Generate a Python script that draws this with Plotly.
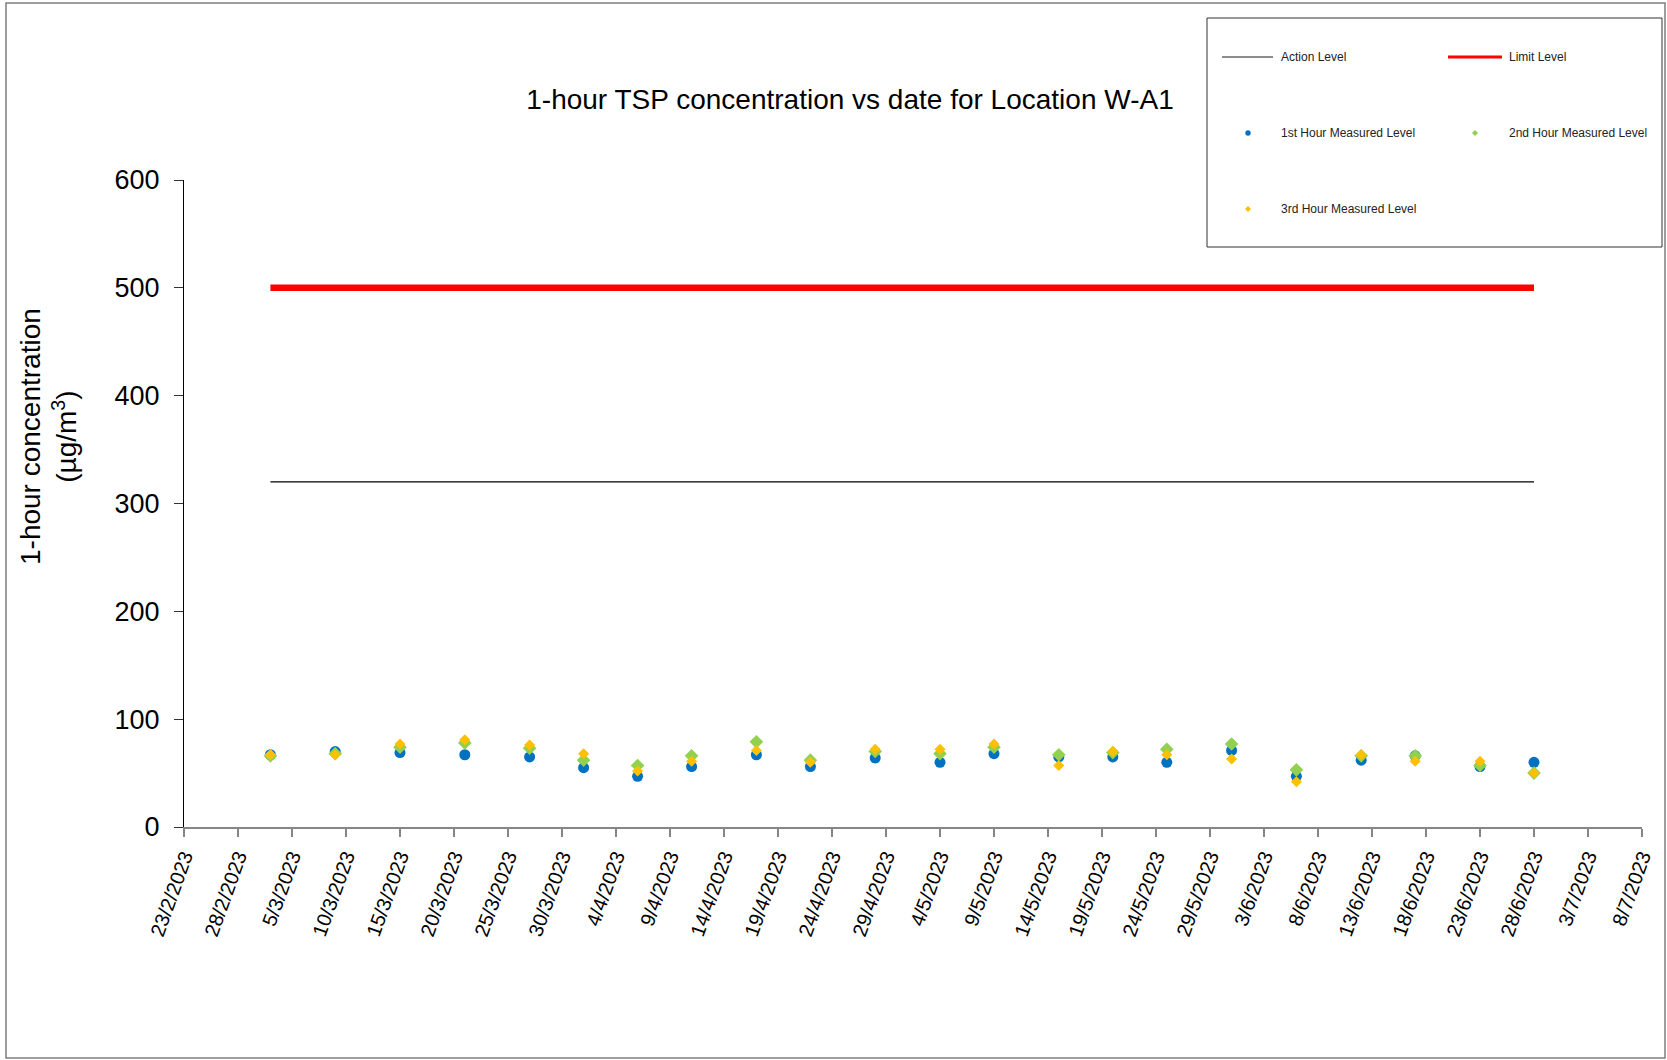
import plotly.graph_objects as go

# ---------------- data ----------------
dates = ["2023-03-03", "2023-03-09", "2023-03-15", "2023-03-21", "2023-03-27",
         "2023-04-01", "2023-04-06", "2023-04-11", "2023-04-17", "2023-04-22",
         "2023-04-28", "2023-05-04", "2023-05-09", "2023-05-15", "2023-05-20",
         "2023-05-25", "2023-05-31", "2023-06-06", "2023-06-12", "2023-06-17",
         "2023-06-23", "2023-06-28"]
first_hour = [67, 70, 69, 67, 65, 55, 47, 56, 67, 56, 64, 60, 68, 65, 65,
              60, 71, 47, 62, 66, 56, 60]
second_hour = [66, 68, 74, 78, 73, 62, 57, 66, 79, 62, 70, 68, 74, 67, 69,
               72, 77, 53, 66, 66, 57, 50]
third_hour = [67, 67, 77, 81, 76, 68, 52, 61, 71, 60, 72, 72, 77, 57, 70,
              67, 63, 42, 67, 61, 61, 50]
action_level = [320] * len(dates)
limit_level = [500] * len(dates)

x_range = ["2023-02-23", "2023-07-08"]
y_range = [0, 600]

title_text = "1-hour TSP concentration vs date for Location W-A1"
y_title = "1-hour concentration<br>(µg/m<sup>3</sup>)"
legend_labels = ["Action Level", "Limit Level", "1st Hour Measured Level",
                 "2nd Hour Measured Level", "3rd Hour Measured Level"]

BLUE = "#0070C0"
GREEN = "#92D050"
ORANGE = "#FFC000"
RED = "#FF0000"
FONT = "Liberation Sans, Arial, sans-serif"

W, H = 1667, 1060
L, R, T, B = 184, 25, 180, 233
PW, PH = W - L - R, H - T - B


def px(xp):
    return (xp - L) / PW


def py(yp):
    return (H - B - yp) / PH


fig = go.Figure()
fig.add_trace(go.Scatter(x=dates, y=action_level, mode="lines",
                         line=dict(color="#000000", width=1.3), name=legend_labels[0],
                         showlegend=False))
fig.add_trace(go.Scatter(x=dates, y=limit_level, mode="lines",
                         line=dict(color=RED, width=6.5), name=legend_labels[1],
                         showlegend=False))
fig.add_trace(go.Scatter(x=dates, y=first_hour, mode="markers",
                         marker=dict(color=BLUE, size=11, symbol="circle"),
                         name=legend_labels[2], showlegend=False))
fig.add_trace(go.Scatter(x=dates, y=second_hour, mode="markers",
                         marker=dict(color=GREEN, size=10.5, symbol="diamond"),
                         name=legend_labels[3], showlegend=False))
fig.add_trace(go.Scatter(x=dates, y=third_hour, mode="markers",
                         marker=dict(color=ORANGE, size=8.5, symbol="diamond"),
                         name=legend_labels[4], showlegend=False))

shapes = []
annotations = []

# outer chart border
shapes.append(dict(type="rect", xref="paper", yref="paper",
                   x0=px(6), x1=px(1665), y0=py(1058), y1=py(3),
                   line=dict(color="#7f7f7f", width=1.5), layer="below"))

# custom legend box
shapes.append(dict(type="rect", xref="paper", yref="paper",
                   x0=px(1207), x1=px(1662), y0=py(247), y1=py(18),
                   line=dict(color="#333333", width=1), fillcolor="white", layer="above"))
# legend lines
shapes.append(dict(type="line", xref="paper", yref="paper",
                   x0=px(1222), x1=px(1273), y0=py(57), y1=py(57),
                   line=dict(color="#1a1a1a", width=1)))
shapes.append(dict(type="line", xref="paper", yref="paper",
                   x0=px(1448), x1=px(1502), y0=py(57), y1=py(57),
                   line=dict(color=RED, width=3)))
# legend markers
shapes.append(dict(type="circle", xref="paper", yref="paper",
                   xsizemode="pixel", ysizemode="pixel",
                   xanchor=px(1248), yanchor=py(133),
                   x0=-2.7, x1=2.7, y0=-2.7, y1=2.7,
                   fillcolor=BLUE, line=dict(width=0)))
shapes.append(dict(type="path", xref="paper", yref="paper",
                   xsizemode="pixel", ysizemode="pixel",
                   xanchor=px(1475), yanchor=py(133),
                   path="M -3 0 L 0 3 L 3 0 L 0 -3 Z",
                   fillcolor=GREEN, line=dict(width=0)))
shapes.append(dict(type="path", xref="paper", yref="paper",
                   xsizemode="pixel", ysizemode="pixel",
                   xanchor=px(1248), yanchor=py(209),
                   path="M -3 0 L 0 3 L 3 0 L 0 -3 Z",
                   fillcolor=ORANGE, line=dict(width=0)))

legend_pos = [(1279, 57), (1507, 57), (1279, 133), (1507, 133), (1279, 209)]
for lab, (lx, ly) in zip(legend_labels, legend_pos):
    annotations.append(dict(text=lab, xref="paper", yref="paper",
                            x=px(lx), y=py(ly), xanchor="left", yanchor="middle",
                            showarrow=False,
                            font=dict(family=FONT, size=12, color="#222222")))

# y-axis title
annotations.append(dict(text=y_title, xref="paper", yref="paper",
                        x=px(48), y=py(437), xanchor="center", yanchor="middle",
                        textangle=-90, showarrow=False,
                        font=dict(family=FONT, size=28, color="black")))

fig.update_layout(
    width=W, height=H,
    margin=dict(l=L, r=R, t=T, b=B),
    paper_bgcolor="white", plot_bgcolor="white",
    showlegend=False,
    title=dict(text=title_text, xref="container", yref="container",
               x=850 / W, y=1 - 99 / H, xanchor="center", yanchor="middle",
               font=dict(family=FONT, size=28, color="black")),
    shapes=shapes, annotations=annotations,
    font=dict(family=FONT, color="black"),
)

fig.update_xaxes(type="date", range=x_range, tick0=x_range[0],
                 dtick=5 * 86400000, tickformat="%-d/%-m/%Y",
                 tickangle=-70, tickfont=dict(family=FONT, size=20, color="black"),
                 ticks="outside", ticklen=8, tickcolor="#868686", tickwidth=1.5,
                 showline=True, linecolor="#868686", linewidth=2,
                 showgrid=False, zeroline=False)
fig.update_yaxes(range=y_range, tick0=0, dtick=100,
                 tickfont=dict(family=FONT, size=27, color="black"),
                 ticks="outside", ticklen=9, tickcolor="#333333", tickwidth=1.2,
                 showline=True, linecolor="black", linewidth=1.2,
                 ticklabelstandoff=9,
                 showgrid=False, zeroline=False)

fig.write_html("out.html", config={"displayModeBar": False},
               post_script="document.body.style.margin='0px'; document.body.style.padding='0px';")
